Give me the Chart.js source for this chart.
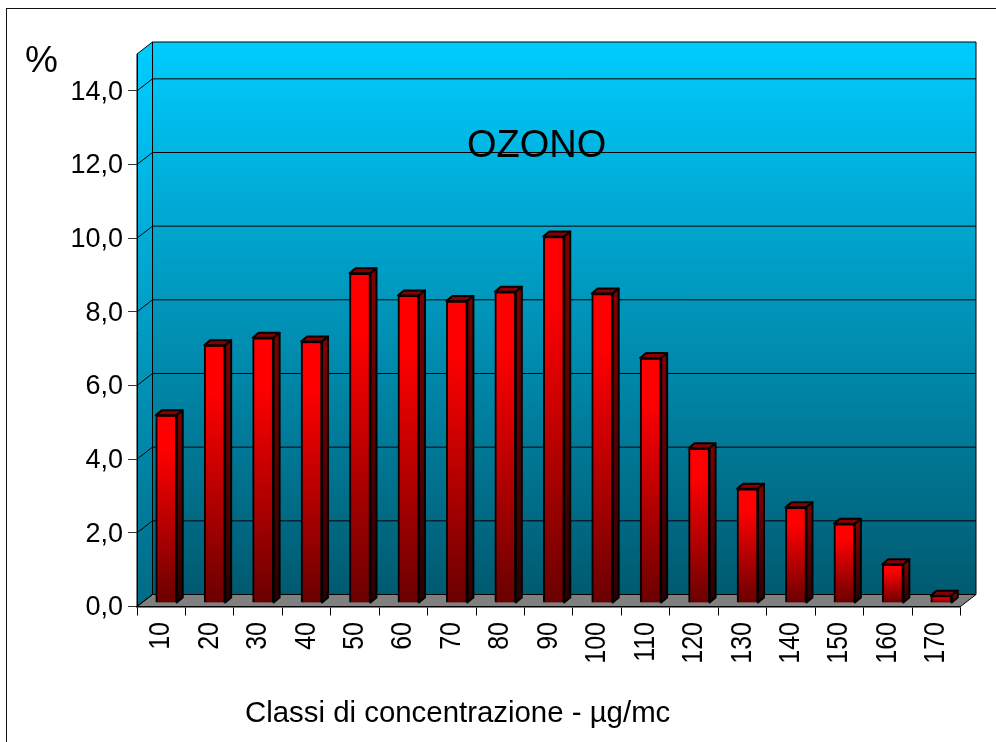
<!DOCTYPE html>
<html>
<head>
<meta charset="utf-8">
<title>Ozono</title>
<script src="https://cdn.jsdelivr.net/npm/chart.js@4/dist/chart.umd.min.js"></script>
<style>
  html, body { margin: 0; background: #fff; overflow: hidden; }
  #frame { position: absolute; left: 6px; top: 8px; width: 990px; height: 734px; border-left: 1.5px solid #111; border-top: 1.5px solid #111; box-sizing: border-box; }
  canvas { position: absolute; left: 0; top: 0; }
</style>
</head>
<body>
<div id="frame"></div>
<canvas id="chart" width="996" height="742"></canvas>
<script>
const classes = ["10", "20", "30", "40", "50", "60", "70", "80", "90", "100", "110", "120", "130", "140", "150", "160", "170"];
const ozono = [5.1, 7.0, 7.2, 7.1, 8.95, 8.35, 8.2, 8.45, 9.95, 8.4, 6.65, 4.2, 3.1, 2.6, 2.15, 1.05, 0.2];
const chartTitle = "OZONO";
const yTitle = "%";
const xTitle = "Classi di concentrazione - µg/mc";

const font = '"Liberation Sans", Arial, sans-serif';
const wallDepth = { x: 15.5, y: -12 };
const barDepth = { x: 6, y: -5 };
const barShift = { x: 5, y: -3.5 };

function poly(ctx, pts, fill) {
  ctx.beginPath();
  pts.forEach((p, i) => i ? ctx.lineTo(p[0], p[1]) : ctx.moveTo(p[0], p[1]));
  ctx.closePath();
  if (fill) { ctx.fillStyle = fill; ctx.fill(); }
  ctx.stroke();
}

function vGrad(ctx, y0, y1, c0, c1) {
  const g = ctx.createLinearGradient(0, y0, 0, y1);
  g.addColorStop(0, c0);
  g.addColorStop(1, c1);
  return g;
}

// back wall, side wall, floor and the gridlines running over them
const wallPlugin = {
  id: "wall",
  beforeDraw(chart) {
    const { ctx, chartArea: a, scales } = chart;
    const dx = wallDepth.x, dy = wallDepth.y;
    ctx.save();
    ctx.strokeStyle = "#000";
    ctx.lineWidth = 1;
    poly(ctx, [[a.left + dx, a.top + dy], [a.right + dx, a.top + dy], [a.right + dx, a.bottom + dy], [a.left + dx, a.bottom + dy]],
      vGrad(ctx, a.top + dy, a.bottom + dy, "#00ccff", "#005a70"));
    poly(ctx, [[a.left, a.top], [a.left + dx, a.top + dy], [a.left + dx, a.bottom + dy], [a.left, a.bottom]],
      vGrad(ctx, a.top, a.bottom, "#00ccff", "#006a85"));
    poly(ctx, [[a.left, a.bottom], [a.left + dx, a.bottom + dy], [a.right + dx, a.bottom + dy], [a.right, a.bottom]], "#808080");
    scales.y.ticks.forEach(t => {
      const y = scales.y.getPixelForValue(t.value);
      ctx.beginPath();
      ctx.moveTo(a.left, y);
      ctx.lineTo(a.left + dx, y + dy);
      ctx.lineTo(a.right + dx, y + dy);
      ctx.stroke();
    });
    ctx.restore();
  }
};

// pushes the bars back from the front plane and adds their top and side faces
const barPlugin = {
  id: "bar3d",
  beforeDatasetDraw(chart) {
    chart.ctx.save();
    chart.ctx.translate(barShift.x, barShift.y);
  },
  afterDatasetDraw(chart, args) {
    const ctx = chart.ctx;
    ctx.strokeStyle = "#000";
    ctx.lineWidth = 2;
    ctx.lineJoin = "round";
    args.meta.data.forEach(el => {
      const l = el.x - el.width / 2, r = el.x + el.width / 2;
      const t = el.y, b = el.base;
      const dx = barDepth.x, dy = barDepth.y;
      poly(ctx, [[l, t], [l + dx, t + dy], [r + dx, t + dy], [r, t]], "#8a0000");
      poly(ctx, [[r, t], [r + dx, t + dy], [r + dx, b + dy], [r, b]], vGrad(ctx, t, b, "#800000", "#2a0000"));
    });
    ctx.restore();
  }
};

// tick labels and titles; the rotated class labels are stretched across their height like the original
const labelPlugin = {
  id: "labels",
  afterDraw(chart) {
    const ctx = chart.ctx;
    const { x, y } = chart.scales;
    ctx.save();
    ctx.fillStyle = "#000";
    ctx.textBaseline = "alphabetic";
    ctx.textAlign = "left";
    ctx.font = "38px " + font;
    ctx.fillText(chartTitle, 467, 157);
    ctx.font = "37px " + font;
    ctx.fillText(yTitle, 25, 72);
    ctx.font = "29.4px " + font;
    ctx.fillText(xTitle, 245, 722);

    ctx.font = "27px " + font;
    ctx.textAlign = "right";
    ctx.textBaseline = "middle";
    y.ticks.forEach(t => {
      ctx.fillText(t.value.toFixed(1).replace(".", ","), 123, y.getPixelForValue(t.value) + 1.5);
    });

    ctx.font = "25px " + font;
    ctx.textBaseline = "alphabetic";
    classes.forEach((c, i) => {
      ctx.save();
      ctx.translate(x.getPixelForTick(i) + 8, 622);
      ctx.rotate(-Math.PI / 2);
      ctx.scale(1, 1.2);
      ctx.fillText(c, 0, 0);
      ctx.restore();
    });
    ctx.restore();
  }
};

new Chart(document.getElementById("chart"), {
  type: "bar",
  data: {
    labels: classes,
    datasets: [{
      data: ozono,
      clip: false,
      barThickness: 21,
      borderColor: "#000",
      borderWidth: 2,
      backgroundColor(c) {
        const { chart, dataIndex } = c;
        if (!chart.chartArea) return "#f00";
        const y = chart.scales.y;
        const g = chart.ctx.createLinearGradient(0, y.getPixelForValue(ozono[dataIndex]), 0, y.getPixelForValue(0));
        g.addColorStop(0, "#ff0000");
        g.addColorStop(0.18, "#ff0000");
        g.addColorStop(1, "#6a0000");
        return g;
      }
    }]
  },
  options: {
    responsive: false,
    animation: false,
    layout: { padding: { top: 54, right: 35.5, left: 0, bottom: 0 } },
    plugins: { legend: { display: false }, title: { display: false }, tooltip: { enabled: false } },
    scales: {
      x: {
        afterFit(s) { s.height = 135.5; },
        grid: { drawOnChartArea: false, tickLength: 9, color: "#000", lineWidth: 1 },
        border: { display: true, color: "#000", width: 1.5 },
        ticks: { display: false, autoSkip: false, maxRotation: 0 }
      },
      y: {
        min: 0,
        max: 15,
        afterFit(s) { s.width = 137; },
        grid: { drawOnChartArea: false, tickLength: 9, color: "#333", lineWidth: 1 },
        border: { display: true, color: "#000", width: 1 },
        ticks: { display: false, stepSize: 2, includeBounds: false }
      }
    }
  },
  plugins: [wallPlugin, barPlugin, labelPlugin]
});
</script>
</body>
</html>
